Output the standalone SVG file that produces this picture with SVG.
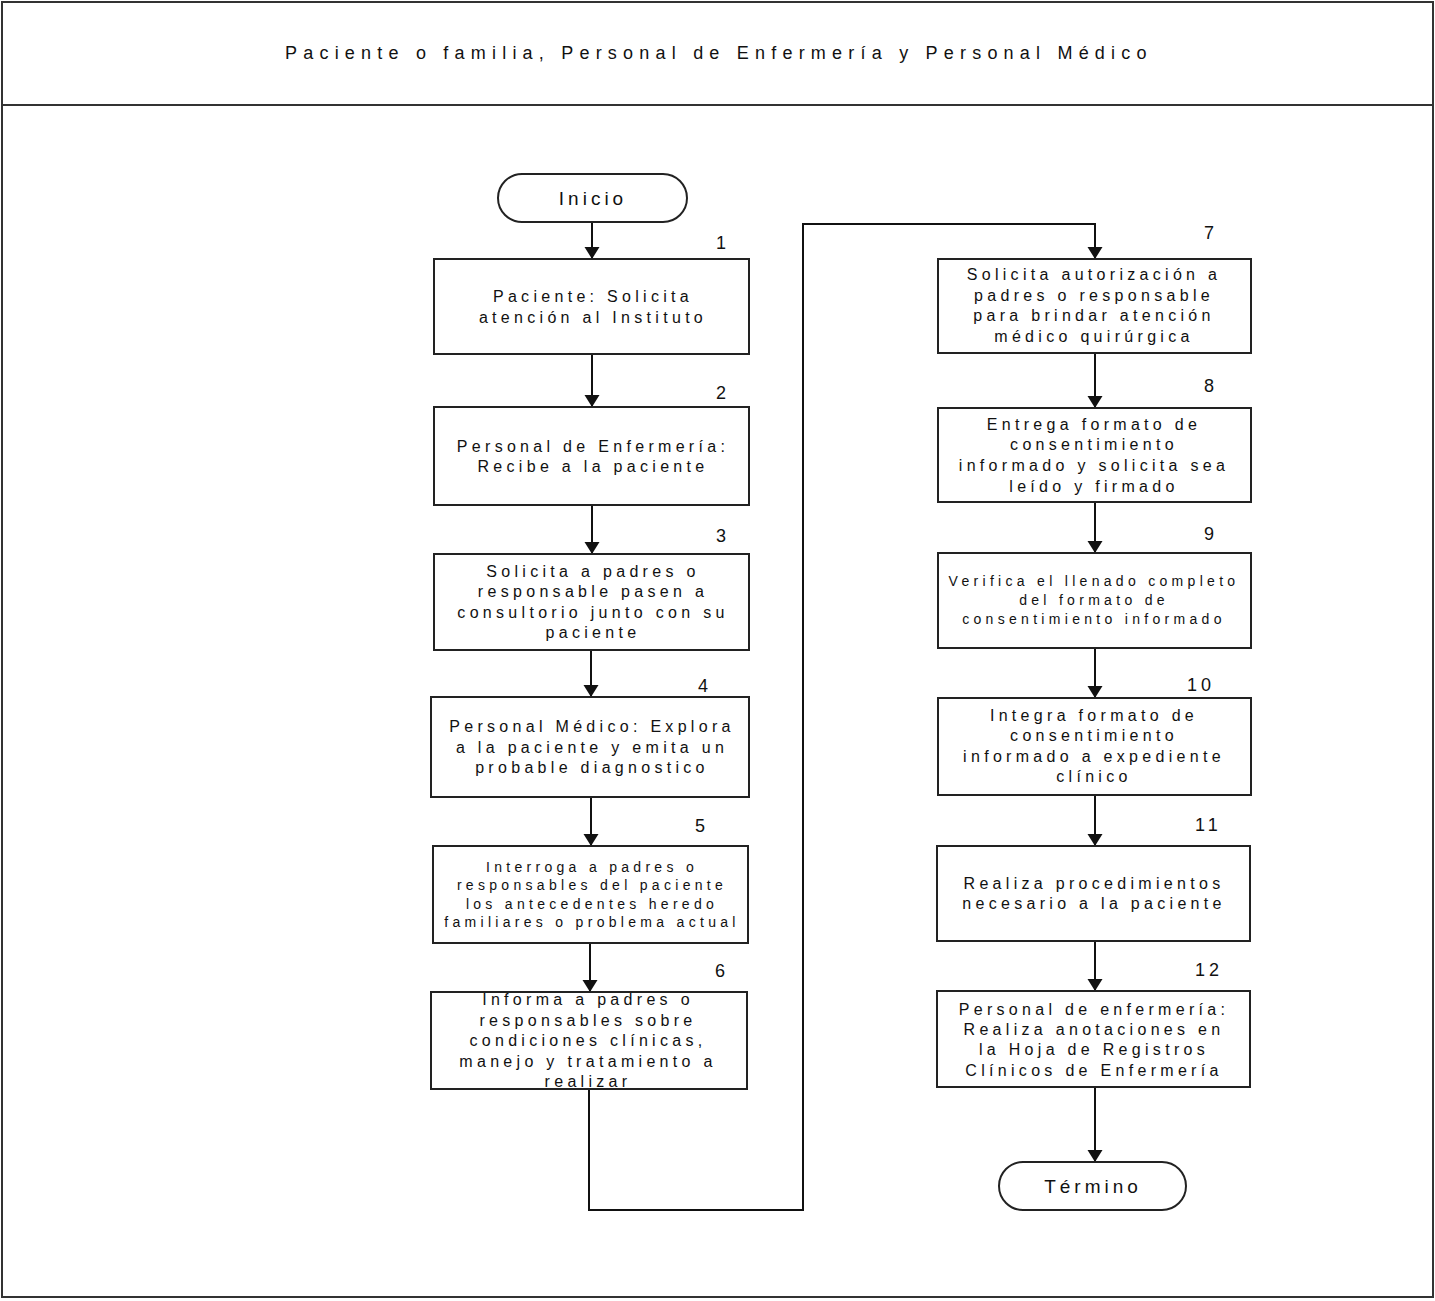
<svg xmlns="http://www.w3.org/2000/svg" width="1435" height="1301" viewBox="0 0 1435 1301">
  <defs>
    <marker id="arrow" markerUnits="userSpaceOnUse" markerWidth="16" markerHeight="14" refX="8" refY="13" orient="0" viewBox="0 0 16 14">
      <path d="M0.5,1 L15.5,1 L8,13 Z" fill="#111"/>
    </marker>
    <style>
      .frame { fill: none; stroke: #333; stroke-width: 2; }
      .box { fill: #fff; stroke: #222; stroke-width: 2; }
      .term { fill: #fff; stroke: #222; stroke-width: 2; }
      .conn { fill: none; stroke: #111; stroke-width: 2; }
      text { font-family: "Liberation Sans", Arial, sans-serif; fill: #111; }
      .title { font-size: 18px; letter-spacing: 6.5px; }
      .t16 { font-size: 16px; letter-spacing: 4.3px; text-anchor: middle; }
      .t14 { font-size: 14px; letter-spacing: 4.3px; text-anchor: middle; }
      .num { font-size: 18px; letter-spacing: 4px; }
      .tt { font-size: 19px; letter-spacing: 4px; text-anchor: middle; }
    </style>
  </defs>

  <!-- page frame and header -->
  <rect class="frame" x="2" y="2" width="1431" height="1295"/>
  <line class="frame" x1="2" y1="105" x2="1433" y2="105"/>
  <text class="title" x="285" y="59" textLength="868">Paciente o familia, Personal de Enfermería y Personal Médico</text>

  <!-- connectors -->
  <g id="connectors">
    <line class="conn" x1="592" y1="222" x2="592" y2="259" marker-end="url(#arrow)"/>
    <line class="conn" x1="592" y1="354" x2="592" y2="407" marker-end="url(#arrow)"/>
    <line class="conn" x1="592" y1="505" x2="592" y2="554" marker-end="url(#arrow)"/>
    <line class="conn" x1="591" y1="650" x2="591" y2="697" marker-end="url(#arrow)"/>
    <line class="conn" x1="591" y1="797" x2="591" y2="846" marker-end="url(#arrow)"/>
    <line class="conn" x1="590" y1="943" x2="590" y2="992" marker-end="url(#arrow)"/>
    <path class="conn" d="M589,1089 V1210 H803 V224 H1095 V259" marker-end="url(#arrow)"/>
    <line class="conn" x1="1095" y1="353" x2="1095" y2="408" marker-end="url(#arrow)"/>
    <line class="conn" x1="1095" y1="502" x2="1095" y2="553" marker-end="url(#arrow)"/>
    <line class="conn" x1="1095" y1="648" x2="1095" y2="698" marker-end="url(#arrow)"/>
    <line class="conn" x1="1095" y1="795" x2="1095" y2="846" marker-end="url(#arrow)"/>
    <line class="conn" x1="1095" y1="941" x2="1095" y2="991" marker-end="url(#arrow)"/>
    <line class="conn" x1="1095" y1="1087" x2="1095" y2="1162" marker-end="url(#arrow)"/>
  </g>

  <!-- start -->
  <g id="inicio">
    <rect class="term" x="498" y="174" width="189" height="48" rx="24" ry="24"/>
    <text class="tt" x="593" y="205">Inicio</text>
  </g>

  <g id="step1">
    <rect class="box" x="434" y="259" width="315" height="95"/>
    <text class="num" x="716" y="249">1</text>
    <text class="t16" x="593" y="302">Paciente: Solicita</text>
    <text class="t16" x="593" y="323">atención al Instituto</text>
  </g>

  <g id="step2">
    <rect class="box" x="434" y="407" width="315" height="98"/>
    <text class="num" x="716" y="399">2</text>
    <text class="t16" x="593" y="452">Personal de Enfermería:</text>
    <text class="t16" x="593" y="472">Recibe a la paciente</text>
  </g>

  <g id="step3">
    <rect class="box" x="434" y="554" width="315" height="96"/>
    <text class="num" x="716" y="542">3</text>
    <text class="t16" x="593" y="577">Solicita a padres o</text>
    <text class="t16" x="593" y="597">responsable pasen a</text>
    <text class="t16" x="593" y="618">consultorio junto con su</text>
    <text class="t16" x="593" y="638">paciente</text>
  </g>

  <g id="step4">
    <rect class="box" x="431" y="697" width="318" height="100"/>
    <text class="num" x="698" y="692">4</text>
    <text class="t16" x="592" y="732">Personal Médico: Explora</text>
    <text class="t16" x="592" y="753">a la paciente y emita un</text>
    <text class="t16" x="592" y="773">probable diagnostico</text>
  </g>

  <g id="step5">
    <rect class="box" x="433" y="846" width="315" height="97"/>
    <text class="num" x="695" y="832">5</text>
    <text class="t14" x="592" y="872">Interroga a padres o</text>
    <text class="t14" x="592" y="890">responsables del paciente</text>
    <text class="t14" x="592" y="909">los antecedentes heredo</text>
    <text class="t14" x="592" y="927">familiares o problema actual</text>
  </g>

  <g id="step6">
    <rect class="box" x="431" y="992" width="316" height="97"/>
    <text class="num" x="715" y="977">6</text>
    <text class="t16" x="588" y="1005">Informa a padres o</text>
    <text class="t16" x="588" y="1026">responsables sobre</text>
    <text class="t16" x="588" y="1046">condiciones clínicas,</text>
    <text class="t16" x="588" y="1067">manejo y tratamiento a</text>
    <text class="t16" x="588" y="1087">realizar</text>
  </g>

  <g id="step7">
    <rect class="box" x="938" y="259" width="313" height="94"/>
    <text class="num" x="1204" y="239">7</text>
    <text class="t16" x="1094" y="280">Solicita autorización a</text>
    <text class="t16" x="1094" y="301">padres o responsable</text>
    <text class="t16" x="1094" y="321">para brindar atención</text>
    <text class="t16" x="1094" y="342">médico quirúrgica</text>
  </g>

  <g id="step8">
    <rect class="box" x="938" y="408" width="313" height="94"/>
    <text class="num" x="1204" y="392">8</text>
    <text class="t16" x="1094" y="430">Entrega formato de</text>
    <text class="t16" x="1094" y="450">consentimiento</text>
    <text class="t16" x="1094" y="471">informado y solicita sea</text>
    <text class="t16" x="1094" y="492">leído y firmado</text>
  </g>

  <g id="step9">
    <rect class="box" x="938" y="553" width="313" height="95"/>
    <text class="num" x="1204" y="540">9</text>
    <text class="t14" x="1094" y="586">Verifica el llenado completo</text>
    <text class="t14" x="1094" y="605">del formato de</text>
    <text class="t14" x="1094" y="624">consentimiento informado</text>
  </g>

  <g id="step10">
    <rect class="box" x="938" y="698" width="313" height="97"/>
    <text class="num" x="1187" y="691">10</text>
    <text class="t16" x="1094" y="721">Integra formato de</text>
    <text class="t16" x="1094" y="741">consentimiento</text>
    <text class="t16" x="1094" y="762">informado a expediente</text>
    <text class="t16" x="1094" y="782">clínico</text>
  </g>

  <g id="step11">
    <rect class="box" x="937" y="846" width="313" height="95"/>
    <text class="num" x="1195" y="831">11</text>
    <text class="t16" x="1094" y="889">Realiza procedimientos</text>
    <text class="t16" x="1094" y="909">necesario a la paciente</text>
  </g>

  <g id="step12">
    <rect class="box" x="937" y="991" width="313" height="96"/>
    <text class="num" x="1195" y="976">12</text>
    <text class="t16" x="1094" y="1015">Personal de enfermería:</text>
    <text class="t16" x="1094" y="1035">Realiza anotaciones en</text>
    <text class="t16" x="1094" y="1055">la Hoja de Registros</text>
    <text class="t16" x="1094" y="1076">Clínicos de Enfermería</text>
  </g>

  <!-- end -->
  <g id="termino">
    <rect class="term" x="999" y="1162" width="187" height="48" rx="24" ry="24"/>
    <text class="tt" x="1093" y="1193">Término</text>
  </g>
</svg>
